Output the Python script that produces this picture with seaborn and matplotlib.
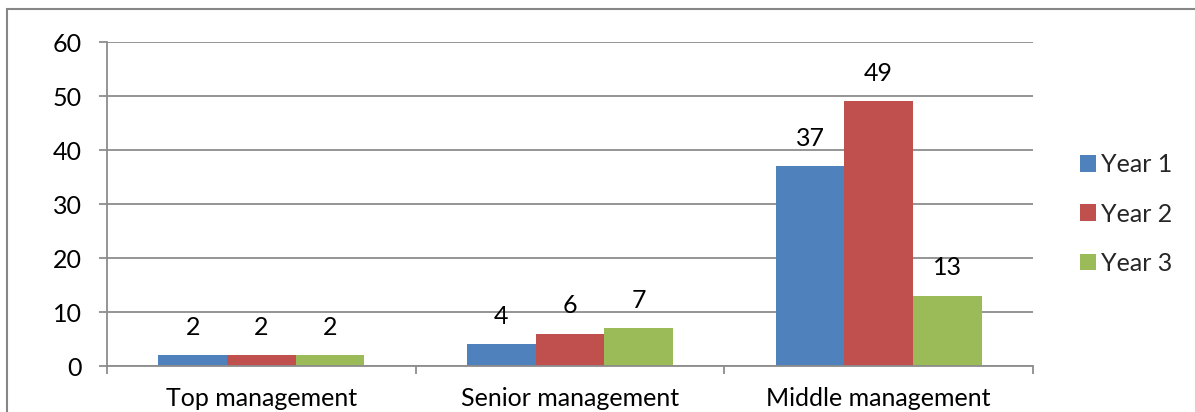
import pandas as pd
import matplotlib.pyplot as plt
import seaborn as sns
from matplotlib.patches import Rectangle, Patch

# data
categories = ['Top management', 'Senior management', 'Middle management']
years = ['Year 1', 'Year 2', 'Year 3']
year1 = [2, 4, 37]
year2 = [2, 6, 49]
year3 = [2, 7, 13]
colors = ['#4F81BD', '#C0504D', '#9BBB59']

df = pd.DataFrame({
    'Category': categories * 3,
    'Year': [y for y in years for _ in categories],
    'Value': year1 + year2 + year3,
})

sns.set_theme(style='white')
plt.rcParams['font.family'] = ['Lato', 'DejaVu Sans']
grid_col = '#8C8C8C'
fs = 18

W, H = 1195, 412
fig = plt.figure(figsize=(W / 100, H / 100), dpi=100)
ax = fig.add_axes([107 / W, (H - 366) / H, (1033 - 107) / W, (366 - 42) / H])

sns.barplot(data=df, x='Category', y='Value', hue='Year', palette=colors,
            width=0.667, saturation=1, edgecolor='none', ax=ax, legend=False)

ax.set_ylim(0, 60)
ax.set_xlim(-0.5, 2.5)
ax.set_yticks(range(0, 61, 10))
ax.yaxis.grid(True, color=grid_col, lw=1.3)
ax.set_axisbelow(True)
ax.set_xlabel('')
ax.set_ylabel('')

for s in ['top', 'right']:
    ax.spines[s].set_visible(False)
for s in ['left', 'bottom']:
    ax.spines[s].set_color(grid_col)
    ax.spines[s].set_linewidth(1.3)

ax.tick_params(axis='y', which='major', length=6, width=1.3, color=grid_col,
               pad=12, labelsize=fs, labelcolor='black', left=True)
ax.tick_params(axis='x', which='major', length=0, pad=15, labelsize=fs,
               labelcolor='black')
ax.set_xticks([-0.5, 0.5, 1.5, 2.5], minor=True)
ax.tick_params(axis='x', which='minor', length=6, width=1.3, color=grid_col,
               bottom=True)

for c in ax.containers:
    ax.bar_label(c, padding=12, fontsize=fs, color='black')

handles = [Patch(facecolor=col, edgecolor='none', label=y) for col, y in zip(colors, years)]
fig.legend(handles=handles, loc='center left', bbox_to_anchor=(1080 / W, 1 - 214 / H),
           frameon=False, fontsize=fs, handlelength=0.65, handleheight=0.65,
           handletextpad=0.2, labelspacing=1.05, borderaxespad=0, borderpad=0)

# outer chart border (only top and left edge visible)
fig.patches.append(Rectangle((7 / W, -0.1), 1.2, 1.1 - 9 / H, transform=fig.transFigure,
                             fill=False, edgecolor='#868686', lw=1.5))

fig.savefig('out.png', dpi=100)
